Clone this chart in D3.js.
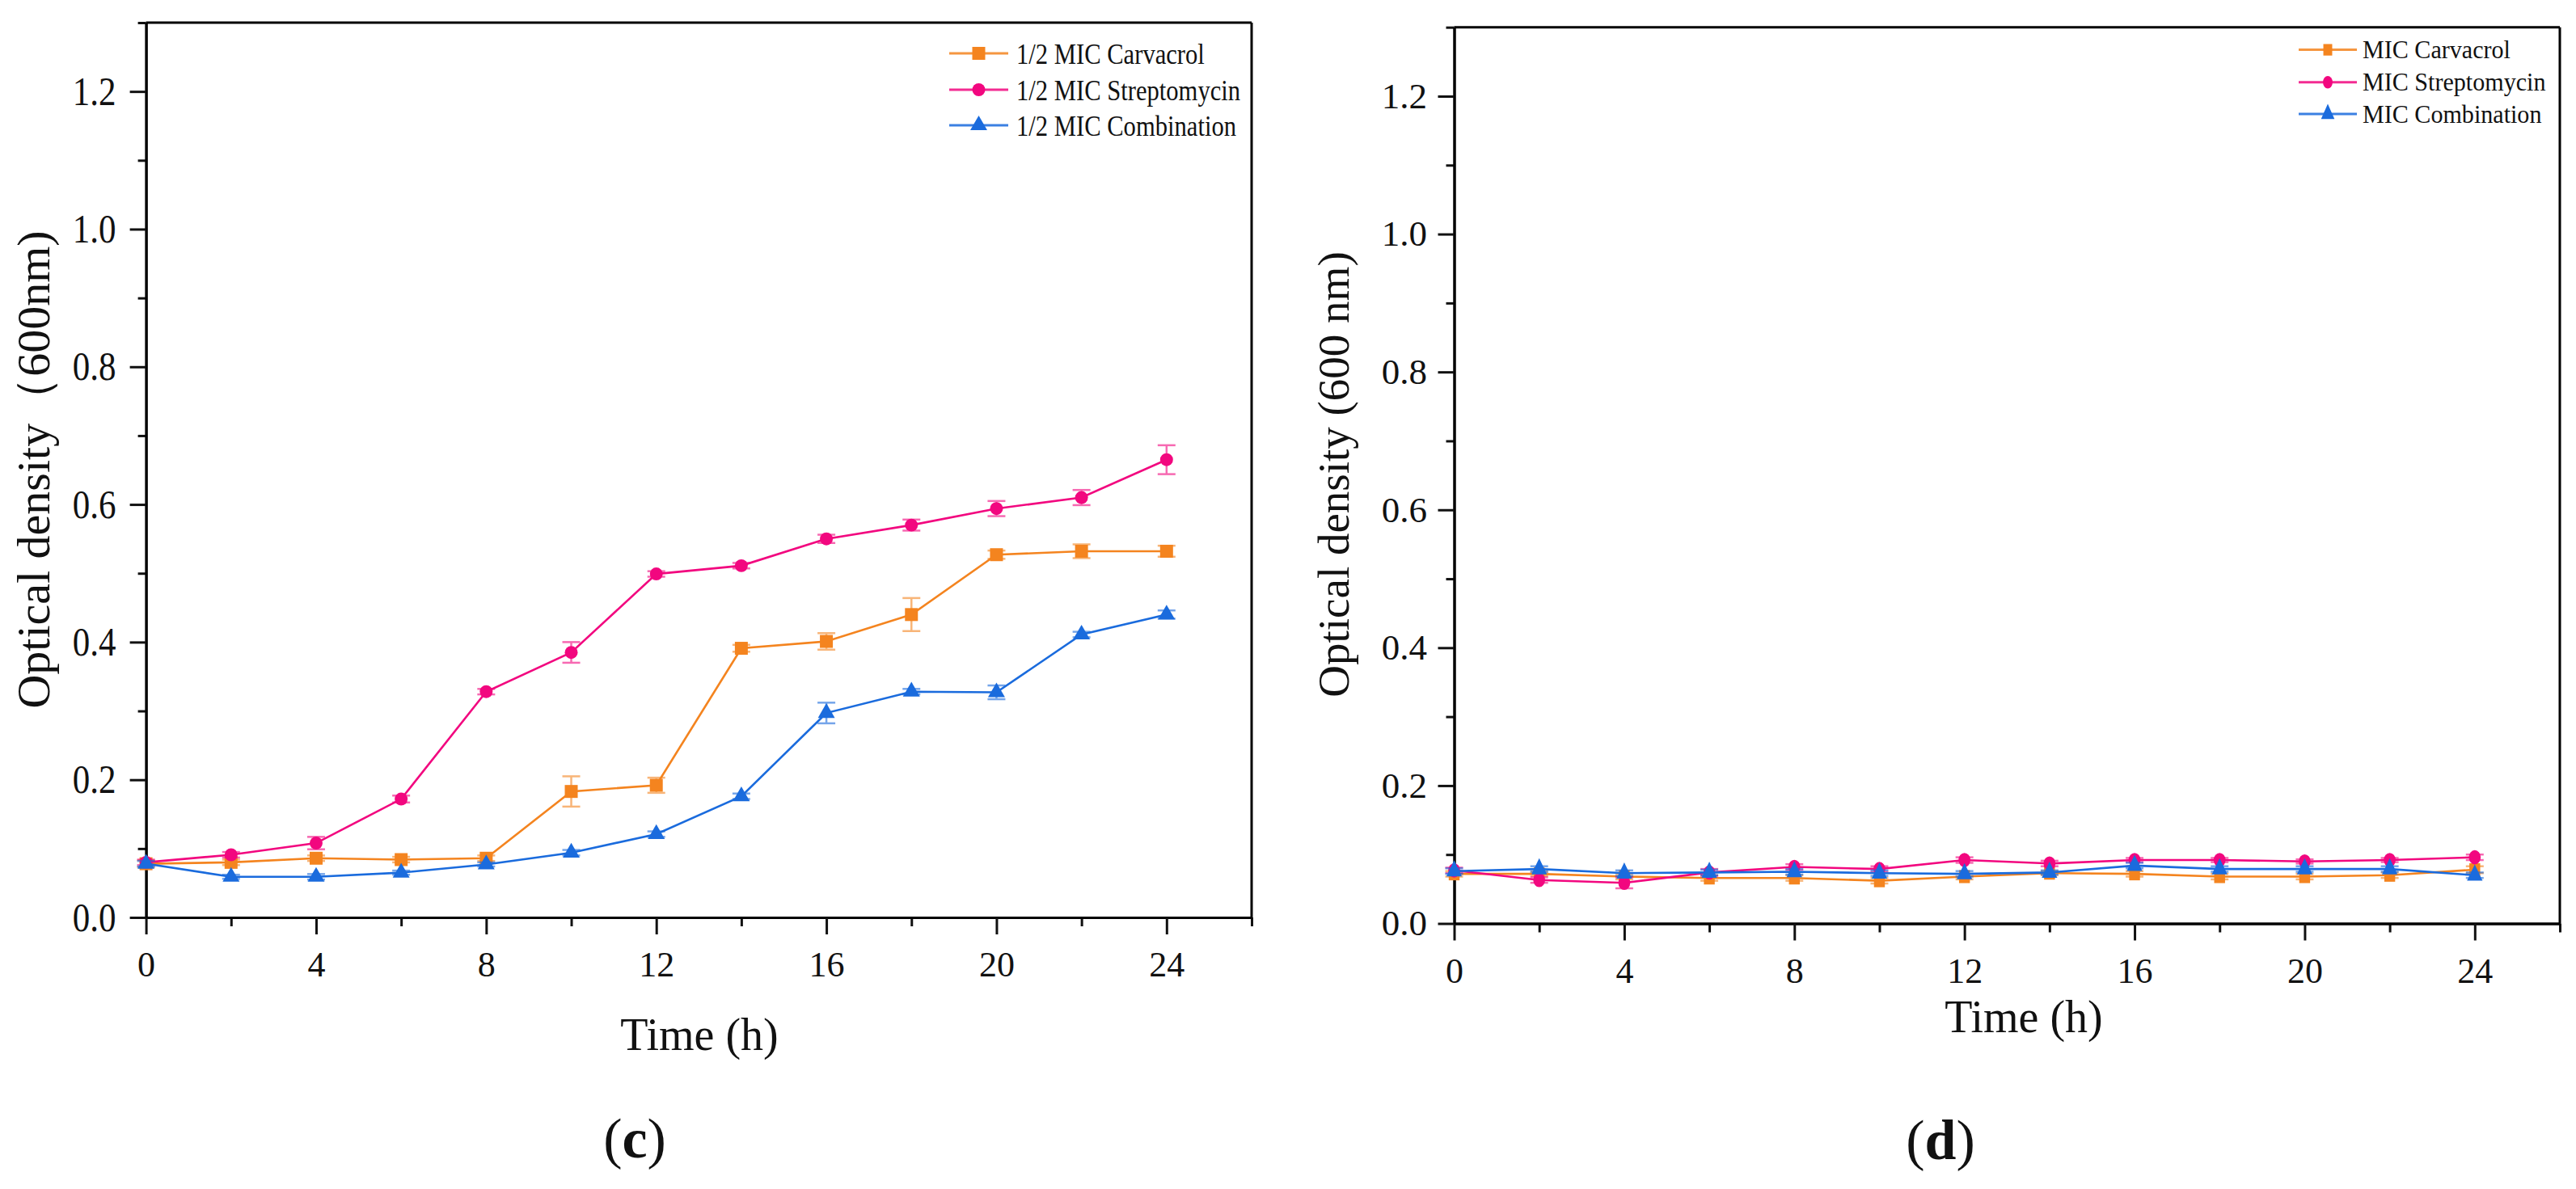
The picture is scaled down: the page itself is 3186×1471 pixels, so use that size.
<!DOCTYPE html>
<html>
<head>
<meta charset="utf-8">
<script src="https://cdn.jsdelivr.net/npm/d3@7"></script>
<style>
  html, body { margin: 0; padding: 0; background: #fff; }
  svg { display: block; }
  svg text { font-family: "Liberation Serif", "Times New Roman", serif; fill: #111; }
</style>
</head>
<body>
<svg id="chart" width="3186" height="1471"></svg>
<script>
// ---------------- DATA ----------------
const time = [0, 2, 4, 6, 8, 10, 12, 14, 16, 18, 20, 22, 24];
const xMajorTicks = [0, 4, 8, 12, 16, 20, 24];
const xMinorTicks = [2, 6, 10, 14, 18, 22, 26];
const yMajorTicks = [0, 0.2, 0.4, 0.6, 0.8, 1.0, 1.2];
const yMinorTicks = [0.1, 0.3, 0.5, 0.7, 0.9, 1.1, 1.3];

// Panel (c): 1/2 MIC
const seriesNamesC = ["1/2 MIC Carvacrol", "1/2 MIC Streptomycin", "1/2 MIC Combination"];
const carvacrolC    = [0.078, 0.080, 0.086, 0.084, 0.086, 0.183, 0.192, 0.391, 0.401, 0.440, 0.527, 0.532, 0.532];
const carvacrolCErr = [0.005, 0.004, 0.004, 0.004, 0.004, 0.022, 0.011, 0.005, 0.012, 0.024, 0.006, 0.010, 0.008];
const streptoC      = [0.080, 0.091, 0.108, 0.172, 0.328, 0.385, 0.499, 0.511, 0.550, 0.570, 0.594, 0.610, 0.665];
const streptoCErr   = [0.004, 0.004, 0.009, 0.005, 0.004, 0.015, 0.004, 0.004, 0.006, 0.008, 0.011, 0.011, 0.021];
const combC         = [0.078, 0.059, 0.059, 0.065, 0.077, 0.094, 0.121, 0.176, 0.297, 0.328, 0.327, 0.411, 0.440];
const combCErr      = [0.004, 0.003, 0.004, 0.003, 0.003, 0.004, 0.004, 0.004, 0.015, 0.004, 0.010, 0.004, 0.006];

// Panel (d): MIC
const seriesNamesD = ["MIC Carvacrol", "MIC Streptomycin", "MIC Combination"];
const carvacrolD    = [0.072, 0.072, 0.068, 0.066, 0.066, 0.062, 0.068, 0.073, 0.072, 0.068, 0.068, 0.070, 0.078];
const carvacrolDErr = [0.004, 0.003, 0.004, 0.004, 0.004, 0.004, 0.004, 0.003, 0.004, 0.004, 0.004, 0.004, 0.005];
const streptoD      = [0.077, 0.063, 0.059, 0.074, 0.082, 0.079, 0.092, 0.087, 0.092, 0.092, 0.090, 0.092, 0.096];
const streptoDErr   = [0.004, 0.004, 0.008, 0.005, 0.004, 0.004, 0.004, 0.004, 0.003, 0.003, 0.003, 0.003, 0.004];
const combD         = [0.076, 0.079, 0.073, 0.074, 0.075, 0.073, 0.072, 0.074, 0.084, 0.079, 0.079, 0.079, 0.070];
const combDErr      = [0.004, 0.004, 0.004, 0.004, 0.004, 0.004, 0.004, 0.003, 0.004, 0.004, 0.004, 0.004, 0.004];

const seriesColors = ["#F4841F", "#F2077F", "#1A6BDD"];
const seriesSymbols = [d3.symbolSquare, d3.symbolCircle, d3.symbolTriangle];

// ---------------- DRAW ----------------
const svg = d3.select("#chart");
const FONT = '"Liberation Serif", "Times New Roman", serif';

function squeeze(sel, f) {
  sel.each(function () {
    const L = this.getComputedTextLength();
    this.setAttribute("textLength", L * f);
    this.setAttribute("lengthAdjust", "spacingAndGlyphs");
  });
}

function drawPanel(cfg) {
  const g = svg.append("g");
  const x = d3.scaleLinear().domain([0, 26]).range([cfg.x0, cfg.x1]);
  const y = d3.scaleLinear().domain([0, 1.3]).range([cfg.y0, cfg.y1]);

  // frame (top & right)
  g.append("line").attr("x1", cfg.x0).attr("x2", cfg.x1).attr("y1", cfg.y1).attr("y2", cfg.y1)
    .attr("stroke", "#000").attr("stroke-width", 3);
  g.append("line").attr("x1", cfg.x1).attr("x2", cfg.x1).attr("y1", cfg.y1).attr("y2", cfg.y0)
    .attr("stroke", "#000").attr("stroke-width", 3);

  // minor axes
  const xMinor = g.append("g").attr("transform", `translate(0,${cfg.y0})`)
    .call(d3.axisBottom(x).tickValues(xMinorTicks).tickSize(11).tickSizeOuter(0).tickFormat(""));
  const yMinor = g.append("g").attr("transform", `translate(${cfg.x0},0)`)
    .call(d3.axisLeft(y).tickValues(yMinorTicks).tickSize(10).tickSizeOuter(0).tickFormat(""));
  // major axes
  const xAx = g.append("g").attr("transform", `translate(0,${cfg.y0})`)
    .call(d3.axisBottom(x).tickValues(xMajorTicks).tickSize(21).tickSizeOuter(0).tickPadding(21)
      .tickFormat(d3.format("d")));
  const yAx = g.append("g").attr("transform", `translate(${cfg.x0},0)`)
    .call(d3.axisLeft(y).tickValues(yMajorTicks).tickSize(20).tickSizeOuter(0).tickPadding(cfg.yPad)
      .tickFormat(d3.format(".1f")));

  [xMinor, yMinor, xAx, yAx].forEach(a => {
    a.attr("font-family", null).style("font-family", FONT);
    a.selectAll("path.domain").attr("stroke", "#000").attr("stroke-width", 3);
    a.selectAll(".tick line").attr("stroke", "#111").attr("stroke-width", 3);
  });
  xAx.selectAll(".tick text").style("font-family", FONT).attr("font-size", 44).attr("fill", "#111");
  yAx.selectAll(".tick text").style("font-family", FONT).attr("font-size", cfg.yTickFont).attr("fill", "#111");
  if (cfg.yTickSqueeze) squeeze(yAx.selectAll(".tick text"), cfg.yTickSqueeze);

  // axis titles
  g.append("text").attr("x", cfg.xTitleX).attr("y", cfg.xTitleY).attr("text-anchor", "middle")
    .attr("font-size", 56).text("Time (h)");
  g.append("text").attr("transform", `translate(${cfg.yTitleX},${cfg.yTitleY}) rotate(-90)`)
    .attr("text-anchor", "middle").attr("font-size", cfg.yTitleFont).text(cfg.yTitle);

  // panel label
  const pl = g.append("text").attr("x", cfg.panelX).attr("y", cfg.panelY).attr("text-anchor", "middle")
    .attr("font-size", 70);
  pl.append("tspan").text("(");
  pl.append("tspan").attr("font-weight", "bold").text(cfg.panel);
  pl.append("tspan").text(")");

  // series
  const line = d3.line().x((d, i) => x(time[i])).y(d => y(d));
  cfg.series.forEach((s, k) => {
    const col = seriesColors[k];
    const sg = g.append("g");
    sg.append("path").datum(s.values).attr("d", line).attr("fill", "none")
      .attr("stroke", col).attr("stroke-width", 2.6);
    // error bars
    const eb = sg.append("g").attr("stroke", col).attr("stroke-width", 2.5).attr("opacity", 0.6);
    s.values.forEach((v, i) => {
      const e = s.err[i];
      const cx = x(time[i]);
      eb.append("line").attr("x1", cx).attr("x2", cx).attr("y1", y(v - e)).attr("y2", y(v + e));
      eb.append("line").attr("x1", cx - 11).attr("x2", cx + 11).attr("y1", y(v - e)).attr("y2", y(v - e));
      eb.append("line").attr("x1", cx - 11).attr("x2", cx + 11).attr("y1", y(v + e)).attr("y2", y(v + e));
    });
    // markers
    const sym = d3.symbol().type(seriesSymbols[k]).size(cfg.markerSizes[k]);
    sg.selectAll("path.m").data(s.values).join("path").attr("class", "m")
      .attr("d", sym)
      .attr("transform", (d, i) => `translate(${x(time[i])},${y(d)}) scale(1,${cfg.markerStretch})`)
      .attr("fill", col);
  });

  // legend
  const lg = g.append("g");
  cfg.series.forEach((s, k) => {
    const col = seriesColors[k];
    const ry = cfg.legRows[k];
    lg.append("line").attr("x1", cfg.legX0).attr("x2", cfg.legX1).attr("y1", ry).attr("y2", ry)
      .attr("stroke", col).attr("stroke-width", 3).attr("opacity", 0.85);
    lg.append("path").attr("d", d3.symbol().type(seriesSymbols[k]).size(cfg.legMarkerSizes[k]))
      .attr("transform", `translate(${(cfg.legX0 + cfg.legX1) / 2},${ry}) scale(1,${cfg.legStretch})`)
      .attr("fill", col);
    const t = lg.append("text").attr("x", cfg.legTextX).attr("y", ry + cfg.legBase)
      .attr("font-size", cfg.legFont).text(s.name);
    if (cfg.legSqueeze) squeeze(t, cfg.legSqueeze);
  });
}

drawPanel({
  panel: "c",
  x0: 180.6, x1: 1548, y0: 1135, y1: 28,
  yPad: 17, yTickFont: 50, yTickSqueeze: 0.86,
  xTitleX: 865, xTitleY: 1299,
  yTitle: "Optical density（600nm)", yTitleX: 61, yTitleY: 581, yTitleFont: 58,
  panelX: 785, panelY: 1432,
  markerSizes: [256, 200, 190], markerStretch: 1,
  legRows: [66, 111, 155], legX0: 1174, legX1: 1247, legTextX: 1257, legBase: 12.5,
  legFont: 36, legSqueeze: 0.85, legMarkerSizes: [256, 200, 190], legStretch: 1,
  series: [
    { name: seriesNamesC[0], values: carvacrolC, err: carvacrolCErr },
    { name: seriesNamesC[1], values: streptoC, err: streptoCErr },
    { name: seriesNamesC[2], values: combC, err: combCErr }
  ]
});

drawPanel({
  panel: "d",
  x0: 1798.5, x1: 3166, y0: 1142.5, y1: 33.7,
  yPad: 13.5, yTickFont: 45, yTickSqueeze: null,
  xTitleX: 2503, xTitleY: 1277,
  yTitle: "Optical density (600 nm)", yTitleX: 1668, yTitleY: 587, yTitleFont: 55,
  panelX: 2400, panelY: 1434,
  markerSizes: [180, 170, 160], markerStretch: 1.2,
  legRows: [61.6, 101.8, 141], legX0: 2843, legX1: 2915, legTextX: 2922, legBase: 10.5,
  legFont: 32, legSqueeze: 0.94, legMarkerSizes: [120, 110, 120], legStretch: 1.3,
  series: [
    { name: seriesNamesD[0], values: carvacrolD, err: carvacrolDErr },
    { name: seriesNamesD[1], values: streptoD, err: streptoDErr },
    { name: seriesNamesD[2], values: combD, err: combDErr }
  ]
});
</script>
</body>
</html>
